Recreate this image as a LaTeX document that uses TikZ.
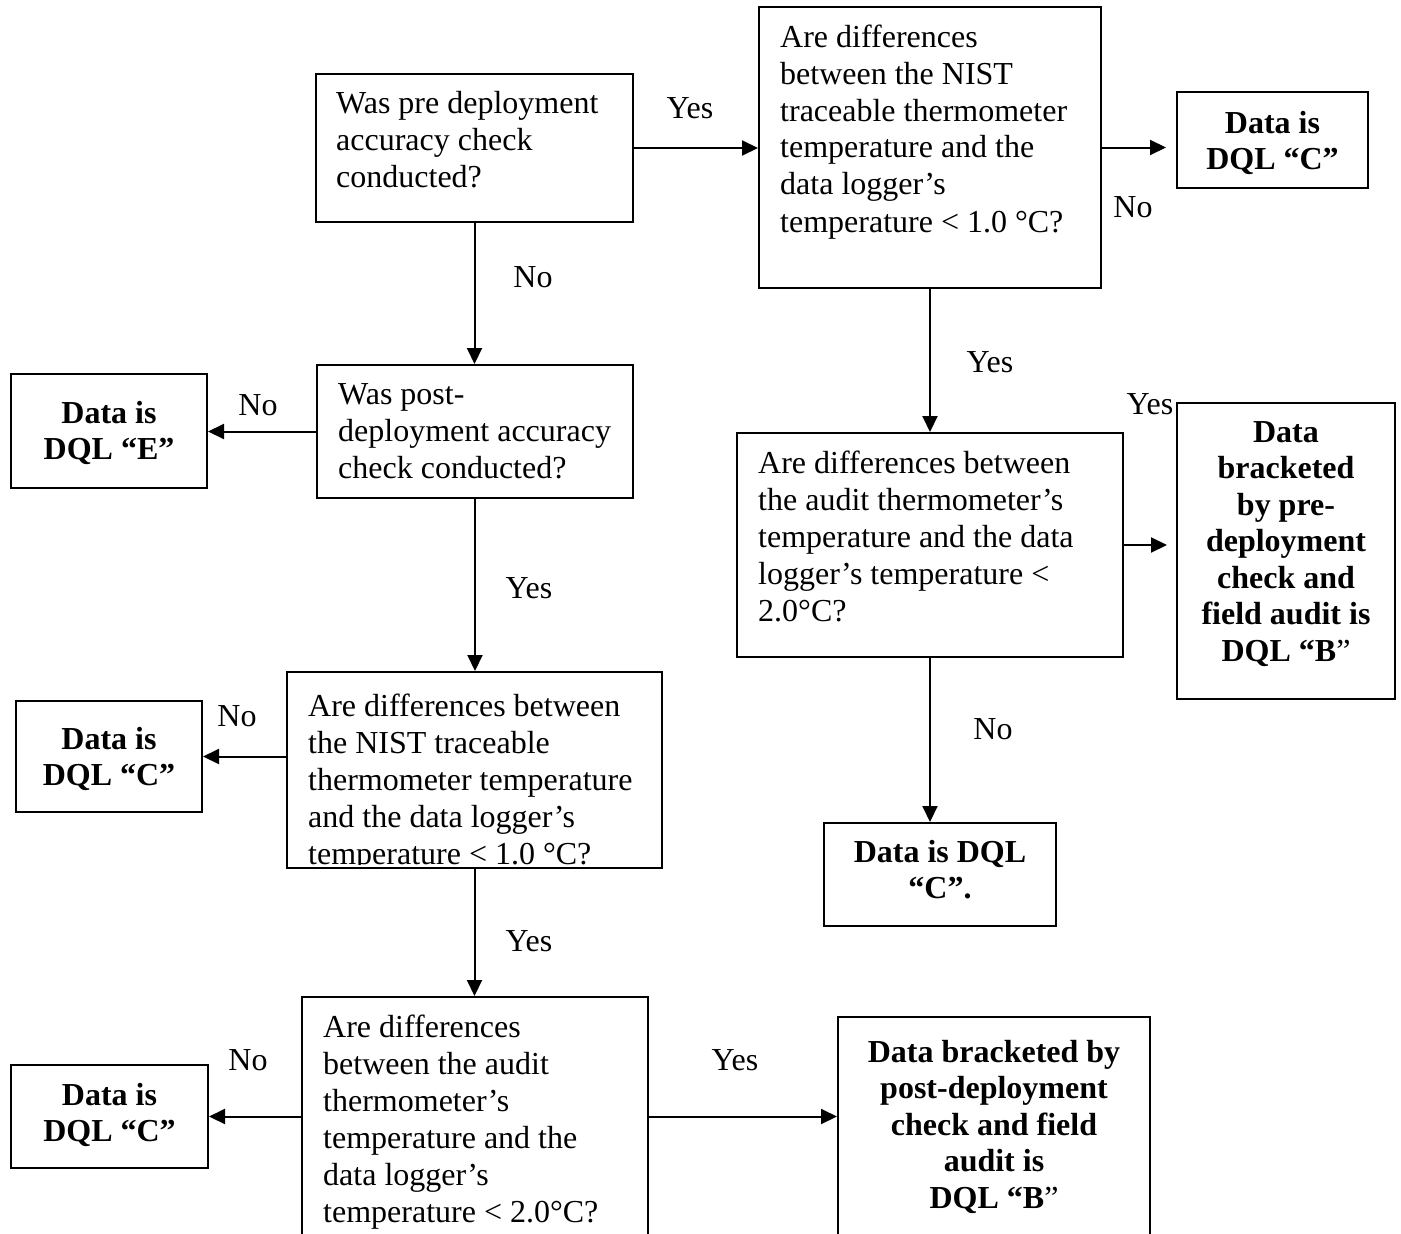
\documentclass[tikz,border=0pt]{standalone}
\usepackage{fontspec}
\setmainfont{Liberation Serif}
\usetikzlibrary{arrows.meta}
\newcommand{\qtab}[1]{\begin{tabular}[t]{@{}l@{}}#1\end{tabular}}
\newcommand{\btab}[1]{\begin{tabular}[t]{@{}c@{}}#1\end{tabular}}
\begin{document}
\begin{tikzpicture}[x=1pt,y=-1pt,
  box/.style={draw, line width=2pt, inner sep=0pt},
  qtext/.style={anchor=base west, inner sep=0pt, font=\fontsize{32}{37}\selectfont},
  btext/.style={anchor=base, inner sep=0pt, font=\fontsize{32}{36.5}\selectfont\bfseries},
  lbl/.style={inner sep=0pt, font=\fontsize{32}{37}\selectfont},
  arr/.style={line width=2pt, -{Triangle[length=16pt,width=15pt]}}]
\useasboundingbox (0,0) rectangle (1401,1234);
\clip (0,0) rectangle (1401,1234);

% boxes
\node[box, minimum width=317pt, minimum height=148pt] (b1) at (474.5,148) {};
\node[box, minimum width=342pt, minimum height=281pt] (b2) at (930,147.5) {};
\node[box, minimum width=191pt, minimum height=96pt] (c1) at (1272.5,140) {};
\node[box, minimum width=316pt, minimum height=133pt] (b3) at (475,431.5) {};
\node[box, minimum width=196pt, minimum height=114pt] (e) at (109,431) {};
\node[box, minimum width=386pt, minimum height=224pt] (b4) at (930,545) {};
\node[box, minimum width=218pt, minimum height=296pt] (bb) at (1286,551) {};
\node[box, minimum width=232pt, minimum height=103pt] (cf) at (940,874.5) {};
\node[box, minimum width=375pt, minimum height=196pt] (b5) at (474.5,770) {};
\node[box, minimum width=186pt, minimum height=111pt] (cl) at (109,756.5) {};
\node[box, minimum width=346pt, minimum height=253pt] (b6) at (475,1123.5) {};
\node[box, minimum width=197pt, minimum height=103pt] (cb) at (109.5,1116.5) {};
\node[box, minimum width=312pt, minimum height=233pt] (bp) at (994,1133.5) {};

% texts
\node[qtext] (b1t) at (336,113) {\qtab{Was pre deployment\\accuracy check\\conducted?}};
\node[qtext] (b2t) at (780,47) {\qtab{Are differences\\between the NIST\\traceable thermometer\\temperature and the\\data logger’s\\temperature < 1.0 °C?}};
\node[btext] (c1t) at (1272.5,133) {\btab{Data is\\DQL “C”}};
\node[qtext] (b3t) at (338,404) {\qtab{Was post-\\deployment accuracy\\check conducted?}};
\node[btext] (et) at (109,423) {\btab{Data is\\DQL “E”}};
\node[qtext] (b4t) at (758,473) {\qtab{Are differences between\\the audit thermometer’s\\temperature and the data\\logger’s temperature <\\2.0°C?}};
\node[btext] (bbt) at (1286,442) {\btab{Data\\bracketed\\by pre-\\deployment\\check and\\field audit is\\DQL “B{\mdseries ”}}};
\node[btext] (cft) at (940,862) {\btab{Data is DQL\\“C”.}};
\begin{scope}
\clip (287,672) rectangle (662,864);
\node[qtext] (b5t) at (308,716) {\qtab{Are differences between\\the NIST traceable\\thermometer temperature\\and the data logger’s\\temperature < 1.0 °C?}};
\end{scope}
\node[btext] (clt) at (109,749) {\btab{Data is\\DQL “C”}};
\node[qtext] (b6t) at (323,1037) {\qtab{Are differences\\between the audit\\thermometer’s\\temperature and the\\data logger’s\\temperature < 2.0°C?}};
\node[btext] (cbt) at (109.5,1105) {\btab{Data is\\DQL “C”}};
\node[btext] (bpt) at (994,1062) {\btab{Data bracketed by\\post-deployment\\check and field\\audit is\\DQL “B{\mdseries ”}}};

% connectors
\draw[arr] (b1.east) -- (b1.east -| b2.west);
\draw[arr] (b2.east) -- ([xshift=-10pt]c1.west |- b2.east);
\draw[arr] (b1.south) -- (b1.south |- b3.north);
\draw[arr] (b3.west) -- (b3.west -| e.east);
\draw[arr] (b3.south) -- (b3.south |- b5.north);
\draw[arr] (cl.east -| b5.west) -- (cl.east);
\draw[arr] (b5.south) -- (b5.south |- b6.north);
\draw[arr] (cb.east -| b6.west) -- (cb.east);
\draw[arr] (cb.east -| b6.east) -- (cb.east -| bp.west);
\draw[arr] (b2.south) -- (b2.south |- b4.north);
\draw[arr, shorten >=9pt] (b4.east) -- (b4.east -| bb.west);
\draw[arr] (b4.south) -- (b4.south |- cf.north);

% labels
\node[lbl] (l1) at (690,108) {Yes};
\node[lbl] (l2) at (533,277) {No};
\node[lbl] (l3) at (1133,207) {No};
\node[lbl] (l4) at (990,362) {Yes};
\node[lbl] (l5) at (1150,404) {Yes};
\node[lbl] (l6) at (258,405) {No};
\node[lbl] (l7) at (993,729) {No};
\node[lbl] (l8) at (529,588) {Yes};
\node[lbl] (l9) at (237,716) {No};
\node[lbl] (l10) at (529,941) {Yes};
\node[lbl] (l11) at (248,1060) {No};
\node[lbl] (l12) at (735,1060) {Yes};
\end{tikzpicture}
\end{document}
